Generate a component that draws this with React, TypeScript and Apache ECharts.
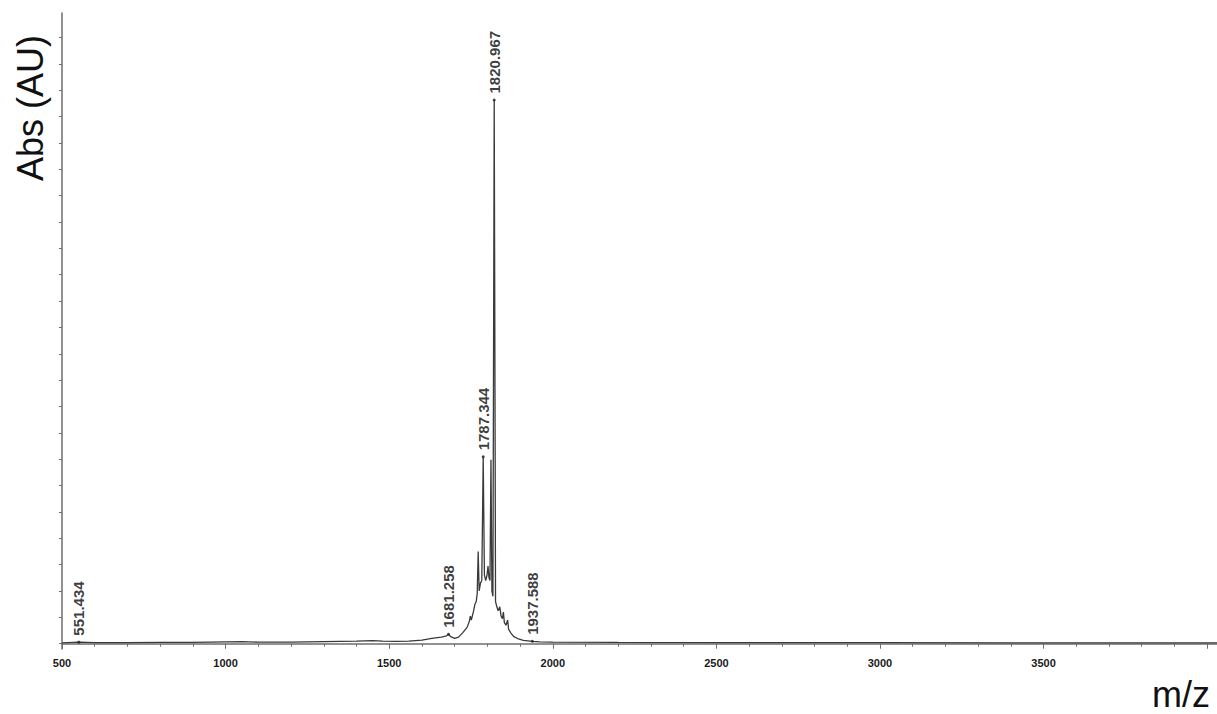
import React, { useEffect, useRef } from "react";
import * as echarts from "echarts";

const mzValues = [
  500, 551.434, 600, 700, 800, 900, 1000, 1050, 1100, 1200, 1300, 1400, 1450, 1480, 1520, 1560,
  1600, 1630, 1660, 1675, 1681.258, 1688, 1700, 1712, 1725, 1738, 1745, 1748, 1751, 1758, 1762,
  1766, 1769, 1772, 1775, 1779, 1783, 1787.344, 1791, 1795, 1799, 1802, 1805, 1808, 1811, 1814,
  1817, 1820.967, 1825, 1829, 1833, 1838, 1842, 1846, 1849, 1852, 1857, 1862, 1865, 1872, 1880,
  1895, 1910, 1937.588, 1960, 2000, 2200, 2500, 3000, 3500, 4030,
];
const intensityValues = [
  0.03, 0.06, 0.04, 0.04, 0.05, 0.05, 0.07, 0.08, 0.06, 0.06, 0.08, 0.1, 0.12, 0.1, 0.09, 0.1,
  0.14, 0.2, 0.25, 0.3, 0.36, 0.27, 0.2, 0.25, 0.42, 0.62, 0.85, 1.05, 0.9, 1.25, 1.5,
  1.6, 1.9, 3.5, 2.0, 2.3, 2.4, 7.09, 2.6, 2.4, 2.6, 2.95, 2.5, 2.4, 6.98, 2.0,
  1.8, 20.63, 1.6, 1.4, 1.25, 1.4, 1.05, 0.95, 1.2, 0.8, 0.7, 0.9, 0.55, 0.4, 0.28,
  0.18, 0.13, 0.09, 0.07, 0.06, 0.05, 0.04, 0.04, 0.03, 0.03,
];

const peakMz = [551.434, 1681.258, 1787.344, 1820.967, 1937.588];
const peakIntensity = [0.06, 0.36, 7.09, 20.63, 0.09];

const xLabelValues = [500, 1000, 1500, 2000, 2500, 3000, 3500];
const yTickValues = Array.from({ length: 24 }, (_, i) => i);

export default function App() {
  const ref = useRef<HTMLDivElement>(null);
  useEffect(() => {
    if (!ref.current) return;
    const chart = echarts.init(ref.current, null, { renderer: "svg" });
    const axisColor = "#6e6e6e";
    chart.setOption({
      animation: false,
      backgroundColor: "#ffffff",
      grid: { left: 62, right: 0, top: 13, bottom: 65 },
      xAxis: {
        type: "value",
        min: 500,
        max: 4030,
        interval: 500,
        axisLine: { show: true, lineStyle: { color: axisColor, width: 1.5 } },
        axisTick: { show: true, length: 5, lineStyle: { color: axisColor, width: 1 } },
        minorTick: { show: true, splitNumber: 5, length: 3, lineStyle: { color: axisColor, width: 1 } },
        splitLine: { show: false },
        axisLabel: {
          customValues: xLabelValues,
          formatter: (v: number) => String(v),
          margin: 8,
          color: "#1a1a1a",
          fontSize: 11,
          fontWeight: "bold",
          fontFamily: "Liberation Sans",
        },
      },
      yAxis: {
        type: "value",
        min: -0.2,
        max: 23.93,
        axisLine: { show: true, lineStyle: { color: axisColor, width: 1.5 } },
        axisTick: { show: true, length: 3, customValues: yTickValues, lineStyle: { color: axisColor, width: 1 } },
        axisLabel: { show: false },
        splitLine: { show: false },
      },
      graphic: [
        {
          type: "text",
          x: 30,
          y: 108,
          rotation: Math.PI / 2,
          style: {
            text: "Abs (AU)",
            font: "36px 'Liberation Sans'",
            fill: "#111",
            align: "center",
            verticalAlign: "middle",
          },
        },
        {
          type: "text",
          x: 1181,
          y: 694,
          style: {
            text: "m/z",
            font: "36px 'Liberation Sans'",
            fill: "#111",
            align: "center",
            verticalAlign: "middle",
          },
        },
      ],
      series: [
        {
          type: "line",
          data: mzValues.map((m, i) => [m, intensityValues[i]]),
          showSymbol: false,
          lineStyle: { color: "#3a3a3a", width: 1.3 },
          z: 2,
        },
        {
          type: "scatter",
          data: peakMz.map((m, i) => [m, peakIntensity[i]]),
          symbol: "circle",
          symbolSize: 3,
          itemStyle: { color: "#222" },
          z: 3,
          label: {
            show: true,
            position: "top",
            rotate: 90,
            align: "left",
            verticalAlign: "middle",
            distance: 5,
            color: "#0a0a0a",
            fontSize: 15,
            fontWeight: "bold",
            fontFamily: "Liberation Sans",
            formatter: (p: any) => p.value[0].toFixed(3),
          },
        },
      ],
    });
    return () => chart.dispose();
  }, []);
  return (
    <div
      ref={ref}
      style={{ position: "fixed", left: 0, top: 0, width: 1217, height: 714, background: "#fff" }}
    />
  );
}
